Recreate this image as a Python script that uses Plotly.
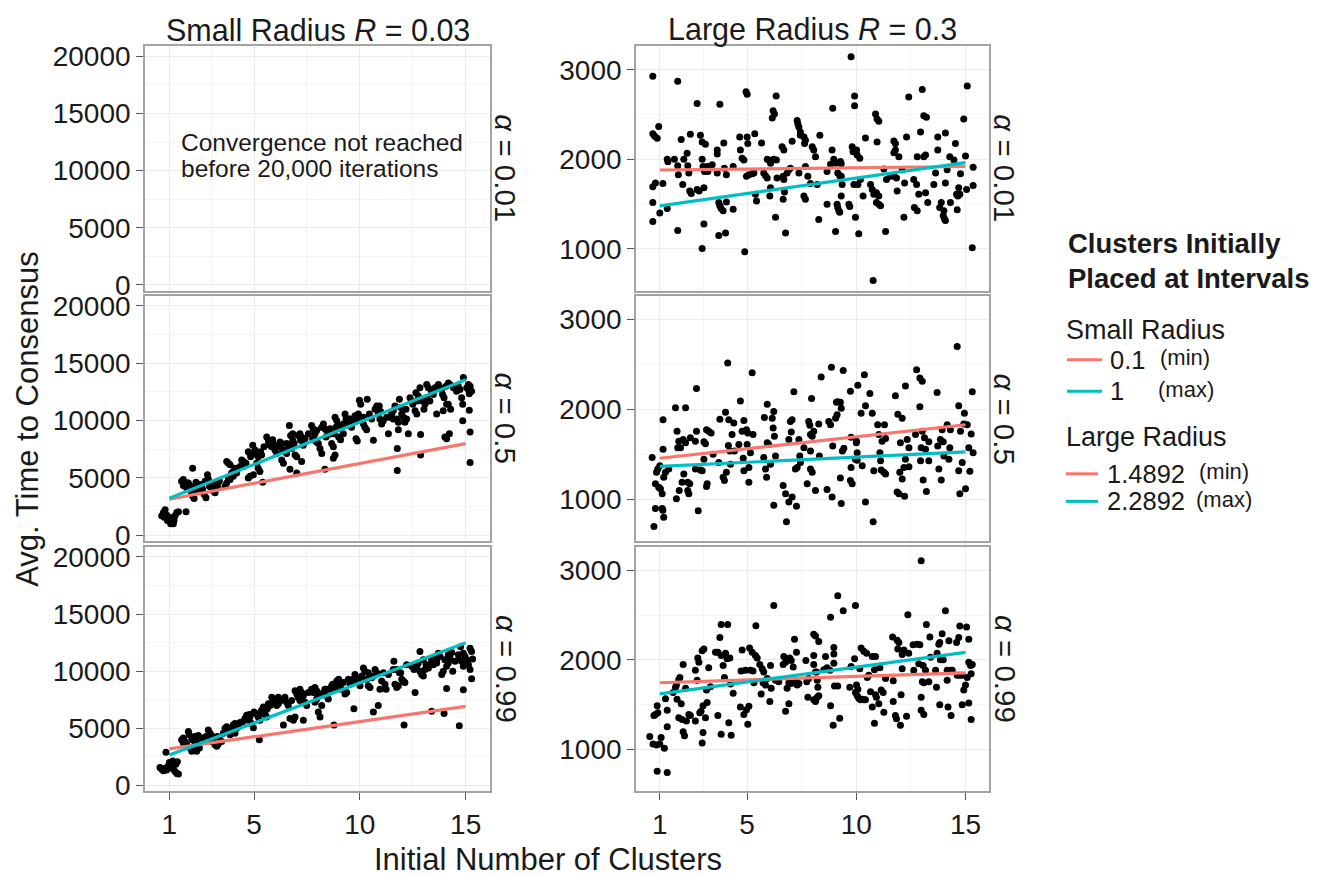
import plotly.graph_objects as go

W, H = 1326, 876
FONT = "Liberation Sans"
RED = "#F8766D"
TEAL = "#00BFC4"

# ---- axis breaks ----
CLUSTER_TICKS = [1, 5, 10, 15]
CLUSTER_MINOR = [3, 7.5, 12.5]
SMALL_Y_TICKS = [0, 5000, 10000, 15000, 20000]
SMALL_Y_MINOR = [2500, 7500, 12500, 17500]
LARGE_Y_TICKS = [1000, 2000, 3000]
LARGE_Y_MINOR = [1500, 2500]

COL_TITLES = ["Small Radius <i>R</i> = 0.03", "Large Radius <i>R</i> = 0.3"]
ROW_LABELS = ["<i>α</i> = 0.01", "<i>α</i> = 0.5", "<i>α</i> = 0.99"]

# ---- reference lines: clusters placed at intervals (value at 1 and at 15 clusters) ----
LINE_X = [1, 15]
SMALL_A05_MIN = [3143, 8000]
SMALL_A05_MAX = [3229, 13571]
SMALL_A099_MIN = [3200, 6914]
SMALL_A099_MAX = [2657, 12486]
LARGE_A001_MIN = [1880, 1919]
LARGE_A001_MAX = [1480, 1963]
LARGE_A05_MIN = [1455, 1828]
LARGE_A05_MAX = [1364, 1525]
LARGE_A099_MIN = [1744, 1854]
LARGE_A099_MAX = [1620, 2084]

SMALL_LEVELS = ["0.1", "1"]
LARGE_LEVELS = ["1.4892", "2.2892"]
LEVEL_TAGS = ["(min)", "(max)"]

# ---- simulation runs: (initial clusters, avg. time to consensus) ----
LARGE_A001 = [
    (0.68, 2927), (0.68, 2286), (0.77, 2256), (0.88, 2234), (0.95, 2366), (0.68, 1692), (0.80, 1736), (0.68, 1516), (0.68, 1304), (1.00, 1399),
    (1.14, 1729), (1.34, 2000), (1.37, 1971), (1.34, 1451), (1.67, 2000), (1.82, 2872), (1.82, 1927), (1.85, 1828), (1.82, 1205), (1.98, 2220),
    (2.05, 1718), (2.10, 2000), (2.25, 2066), (2.28, 1927), (2.33, 1846), (2.37, 1645), (2.44, 1619), (2.40, 2278), (2.71, 2623), (2.71, 1663),
    (2.80, 1645), (2.86, 2267), (2.94, 2000), (2.98, 1919), (3.05, 1864), (2.94, 2194), (3.09, 2168), (3.02, 1681), (3.02, 1278), (2.94, 1004),
    (3.17, 1919), (3.20, 1864), (3.40, 1938), (3.63, 2103), (3.63, 2059), (3.63, 1846), (3.70, 1516), (3.75, 1480), (3.81, 1451), (3.90, 1425),
    (3.75, 2615), (3.70, 1150), (4.01, 1176), (3.93, 2183), (3.96, 1901), (4.05, 1828), (4.05, 1524), (4.36, 1919), (4.36, 1443), (4.66, 2249),
    (4.69, 2103), (4.77, 2011), (4.85, 1993), (4.95, 2755), (5.00, 2725), (4.89, 967), (5.00, 2249), (5.03, 2176), (4.97, 1810), (5.08, 1828),
    (5.23, 1839), (5.31, 1846), (5.35, 2286), (5.38, 1608), (5.43, 1535), (5.66, 2183), (5.76, 1846), (5.84, 1817), (5.92, 1791), (5.92, 2000),
    (5.99, 1993), (6.07, 1956), (6.07, 1681), (6.04, 1590), (6.22, 2000), (6.34, 1993), (6.19, 2542), (6.25, 2505), (6.15, 2462), (6.33, 2707),
    (6.30, 1352), (6.37, 1791), (6.60, 2139), (6.68, 2103), (6.65, 1810), (6.68, 1773), (6.65, 1553), (6.71, 1634), (6.76, 1176), (6.83, 1846),
    (6.91, 1883), (6.98, 1901), (7.06, 2201), (7.29, 2432), (7.32, 2396), (7.37, 2359), (7.44, 2304), (7.37, 1846), (7.44, 2267), (7.60, 2249),
    (7.67, 2212), (7.63, 2176), (7.60, 1590), (7.67, 1553), (7.67, 1919), (7.78, 1810), (7.90, 1729), (7.98, 2139), (8.05, 2103), (8.13, 2029),
    (8.21, 1718), (8.33, 2267), (8.28, 1326), (8.66, 1864), (8.66, 1498), (8.82, 1945), (8.89, 2103), (8.92, 2571), (8.97, 2000), (9.05, 1956),
    (9.05, 1194), (9.12, 1498), (9.15, 1462), (9.20, 1425), (9.24, 1407), (9.15, 1846), (9.24, 1817), (9.31, 1810), (9.27, 1974), (9.31, 1949),
    (9.35, 1718), (9.31, 1590), (9.66, 1498), (9.70, 1473), (9.76, 3146), (9.81, 2139), (9.85, 2084), (9.89, 1718), (9.92, 2597), (9.92, 2707),
    (9.96, 1352), (10.01, 2103), (10.04, 2048), (10.07, 1718), (10.11, 1169), (10.16, 2011), (10.19, 1773), (10.31, 1590), (10.42, 2238), (10.65, 1718),
    (10.73, 1663), (10.80, 1608), (10.92, 1626), (11.03, 1590), (10.88, 2505), (10.95, 2451), (11.03, 2425), (10.95, 2194), (10.92, 1516), (11.03, 1498),
    (11.11, 1480), (10.77, 645), (11.26, 1890), (11.34, 1194), (11.38, 1773), (11.56, 1810), (11.72, 2205), (11.79, 2176), (11.79, 2103), (11.72, 2073),
    (11.72, 1810), (11.84, 1791), (11.87, 1645), (11.95, 2029), (12.10, 1883), (12.18, 1352), (12.21, 1736), (12.30, 2249), (12.40, 2696), (12.63, 1773),
    (12.76, 1718), (12.66, 1462), (12.79, 1425), (12.79, 2029), (12.86, 1608), (12.94, 2304), (13.02, 2780), (13.09, 2487), (13.21, 2469), (13.09, 2029),
    (13.17, 2048), (13.17, 1626), (13.27, 1516), (13.55, 1718), (13.63, 1846), (13.73, 2249), (13.73, 2103), (13.82, 1462), (13.89, 1516), (13.98, 1370),
    (14.04, 1333), (14.08, 1315), (14.01, 1425), (14.08, 2293), (14.08, 1736), (14.16, 1883), (14.28, 2029), (14.31, 1516), (14.47, 1993), (14.54, 2176),
    (14.59, 1608), (14.65, 1590), (14.74, 1608), (14.62, 1436), (14.69, 1681), (14.77, 1839), (14.92, 2451), (15.00, 2037), (15.08, 2817), (15.05, 1663),
    (15.31, 1011), (15.35, 1912), (15.35, 1707),
]

LARGE_A05 = [
    (0.65, 1462), (0.73, 694), (0.80, 896), (0.85, 1298), (0.91, 1334), (0.80, 1170), (0.95, 1133), (1.03, 1115), (1.00, 1371), (1.11, 1060),
    (1.11, 896), (1.14, 877), (1.18, 797), (1.15, 1883), (1.15, 1554), (1.18, 1243), (1.26, 1298), (1.41, 1334), (1.72, 2018), (1.76, 1005),
    (1.79, 1755), (1.82, 1572), (1.87, 1645), (1.89, 1097), (1.95, 1572), (2.02, 1188), (2.07, 1664), (2.10, 1280), (2.18, 2018), (2.18, 1627),
    (2.28, 1097), (2.33, 1060), (2.28, 1188), (2.40, 1682), (2.37, 1170), (2.63, 1645), (2.68, 1755), (2.68, 2230), (2.63, 1334), (2.76, 870),
    (2.86, 1323), (2.94, 1316), (3.02, 1638), (3.09, 1616), (3.02, 1444), (3.14, 1141), (3.17, 1170), (3.14, 1773), (3.24, 1755), (3.35, 1737),
    (3.44, 1499), (3.70, 1408), (3.75, 1890), (3.90, 1243), (3.96, 1206), (4.01, 1967), (4.05, 1298), (4.11, 2516), (4.14, 1598), (4.21, 1536),
    (4.16, 1883), (4.24, 1389), (4.31, 1718), (4.39, 1846), (4.42, 1536), (4.62, 1609), (4.69, 2091), (4.77, 1755), (4.82, 1455), (4.85, 1876),
    (4.85, 1316), (4.97, 1773), (5.03, 1737), (5.00, 1609), (5.08, 1188), (5.08, 1353), (5.15, 1517), (5.23, 2406), (5.27, 1718), (5.76, 1462),
    (5.79, 1909), (5.84, 1334), (5.89, 1243), (5.92, 2055), (5.92, 1627), (5.99, 1609), (6.07, 1389), (6.15, 1901), (6.19, 1792), (6.22, 1974),
    (6.22, 932), (6.25, 1700), (6.30, 1481), (6.65, 1152), (6.76, 1060), (6.91, 969), (6.80, 749), (6.98, 1865), (7.06, 1883), (7.02, 1748),
    (6.91, 1664), (7.06, 1024), (7.26, 921), (7.14, 2194), (7.21, 1334), (7.29, 1353), (7.37, 1664), (7.41, 1481), (7.44, 1408), (7.60, 1572),
    (7.75, 1170), (7.82, 1865), (7.87, 1821), (7.90, 1718), (7.98, 1700), (7.90, 1536), (7.90, 1334), (7.98, 1298), (7.95, 2121), (8.05, 1755),
    (8.13, 1097), (8.28, 1835), (8.31, 1481), (8.39, 2358), (8.66, 1108), (8.74, 1865), (8.82, 1828), (8.86, 2468), (8.89, 1024), (8.92, 1590),
    (9.05, 1901), (9.12, 1938), (9.09, 2077), (9.15, 2084), (9.27, 2077), (9.27, 1236), (9.31, 2011), (9.31, 950), (9.40, 2432), (9.43, 1565),
    (9.36, 1536), (9.73, 2201), (9.76, 1689), (9.76, 1353), (9.73, 1206), (9.81, 1170), (10.00, 1627), (10.01, 1645), (10.04, 1517), (9.96, 1444),
    (10.04, 1433), (10.07, 2267), (10.22, 1956), (10.27, 1371), (10.37, 2384), (10.42, 2040), (10.42, 969), (10.62, 2176), (10.73, 1956), (10.77, 749),
    (10.80, 1316), (10.98, 1828), (11.03, 1718), (11.08, 1517), (11.11, 1426), (11.14, 1323), (11.18, 1645), (11.26, 1298), (11.34, 1280), (11.29, 1828),
    (11.34, 1675), (11.79, 2150), (11.90, 1945), (11.87, 1078), (11.95, 1060), (11.99, 1298), (12.02, 1627), (12.10, 1901), (12.10, 1225), (12.18, 1353),
    (12.21, 1031), (12.25, 2260), (12.25, 1444), (12.33, 1664), (12.41, 1572), (12.41, 1360), (12.76, 2439), (12.71, 1718), (12.91, 2347), (13.02, 2311),
    (12.91, 2029), (12.94, 1426), (12.97, 1572), (13.02, 1755), (13.06, 1214), (13.12, 1682), (13.17, 1554), (13.21, 1086), (13.32, 1426), (13.32, 1638),
    (13.70, 2187), (13.73, 1590), (13.78, 1334), (13.85, 1664), (13.89, 1214), (13.93, 1773), (13.98, 1638), (14.01, 1481), (14.16, 1828), (14.24, 1444),
    (14.28, 1572), (14.31, 1773), (14.62, 2698), (14.69, 2040), (14.69, 1316), (14.74, 1060), (14.77, 1755), (14.85, 1408), (14.92, 1835), (14.95, 1956),
    (15.00, 1115), (15.08, 1828), (15.15, 1572), (15.20, 1309), (15.26, 1726), (15.31, 2194), (15.35, 1517),
]

LARGE_A099 = [
    (0.54, 1145), (0.69, 1060), (0.85, 1049), (0.73, 1378), (0.80, 1389), (0.91, 1408), (0.88, 1488), (0.88, 757), (1.00, 1060), (1.06, 1134),
    (1.21, 1013), (1.34, 742), (1.26, 1565), (1.34, 1437), (1.34, 1254), (1.61, 1634), (1.72, 1693), (1.76, 1718), (1.79, 1561), (1.92, 1803),
    (1.87, 1781), (1.98, 1510), (2.07, 1949), (1.87, 1353), (2.02, 1335), (2.07, 1196), (2.13, 1152), (2.18, 1682), (2.22, 1316), (2.33, 1389),
    (2.40, 1378), (2.63, 1316), (2.63, 1883), (2.74, 2022), (2.79, 1974), (2.71, 1773), (2.83, 1408), (2.89, 1426), (2.94, 2102), (3.02, 2121),
    (2.94, 1071), (2.98, 1188), (2.98, 1488), (3.09, 1353), (3.14, 1664), (3.17, 1525), (3.24, 1912), (3.32, 1700), (3.66, 1378), (3.55, 2084),
    (3.66, 2084), (3.75, 2249), (3.81, 2048), (3.81, 2395), (4.11, 2395), (3.90, 1938), (3.96, 1803), (3.81, 1170), (4.01, 2073), (4.08, 2011),
    (4.21, 2022), (4.16, 1298), (4.27, 1159), (4.24, 1729), (4.36, 1627), (4.69, 1474), (4.72, 1876), (4.77, 2110), (4.85, 1389), (4.92, 1883),
    (4.97, 1444), (5.03, 1280), (5.08, 1481), (5.11, 2132), (5.15, 1883), (5.23, 2084), (5.27, 1876), (5.31, 1744), (5.38, 2048), (5.46, 2022),
    (5.40, 2380), (5.58, 1949), (5.64, 1620), (5.69, 1901), (5.76, 1865), (5.73, 1744), (5.84, 1718), (5.92, 1792), (6.04, 1536), (6.07, 1938),
    (6.10, 1682), (6.22, 2607), (6.30, 1773), (6.45, 1755), (6.65, 1949), (6.68, 2037), (6.76, 1974), (6.76, 1426), (6.83, 1682), (6.91, 1510),
    (6.95, 2022), (7.02, 1993), (6.91, 1744), (7.02, 1737), (7.11, 1920), (7.17, 2230), (7.21, 1773), (7.29, 1718), (7.26, 2084), (7.37, 1737),
    (7.69, 1993), (7.73, 1755), (7.78, 1583), (7.82, 1792), (8.05, 2285), (8.13, 2267), (8.05, 2048), (8.05, 1949), (8.05, 1554), (8.13, 1536),
    (8.18, 1865), (8.21, 1773), (8.24, 1693), (8.28, 1598), (8.21, 1583), (8.28, 2205), (8.13, 1865), (8.51, 1890), (8.59, 2037), (8.66, 1912),
    (8.79, 1883), (8.82, 2475), (8.82, 1488), (8.94, 1269), (8.97, 2139), (8.97, 2066), (8.97, 1963), (9.00, 1708), (9.15, 1708), (9.15, 2717),
    (9.24, 1349), (9.40, 2548), (9.70, 1693), (9.76, 1927), (9.92, 2011), (9.96, 2607), (10.01, 1718), (10.07, 1671), (9.96, 1634), (10.04, 1598),
    (10.11, 1572), (10.19, 1554), (10.27, 1561), (10.34, 1554), (10.42, 1554), (10.16, 1901), (10.22, 2132), (10.34, 2095), (10.47, 2073), (10.50, 1803),
    (10.57, 1828), (10.65, 1645), (10.73, 1474), (10.73, 2037), (10.88, 2037), (10.83, 1890), (10.88, 1609), (10.92, 1583), (10.83, 1291), (11.03, 1510),
    (11.08, 1912), (11.14, 1664), (11.23, 1634), (11.26, 1415), (11.34, 1792), (11.66, 2256), (11.69, 1766), (11.69, 1536), (11.79, 1378), (11.84, 1342),
    (11.87, 2219), (11.95, 2194), (11.90, 2121), (12.02, 1269), (12.05, 1609), (12.10, 1901), (12.10, 2059), (12.18, 2110), (12.30, 1371), (12.36, 2505),
    (12.40, 2073), (12.63, 1883), (12.60, 2168), (12.79, 2175), (12.91, 2168), (12.86, 1956), (12.97, 3108), (12.97, 1583), (12.97, 1437), (13.09, 1389),
    (13.02, 1755), (13.09, 1744), (13.06, 1938), (13.17, 1883), (13.21, 2395), (13.32, 1755), (13.37, 2256), (13.40, 2029), (13.63, 1883), (13.67, 1693),
    (13.70, 2073), (13.78, 2175), (13.82, 2194), (13.82, 1499), (13.85, 2000), (13.93, 2292), (13.98, 2000), (14.08, 2548), (14.16, 1883), (14.31, 1883),
    (14.39, 1883), (14.16, 1773), (14.20, 1474), (14.24, 2212), (14.34, 1378), (14.59, 2194), (14.69, 2249), (14.62, 1828), (14.74, 1828), (14.85, 1828),
    (14.74, 2377), (14.85, 1499), (14.92, 1664), (15.00, 1718), (15.05, 2366), (15.08, 1803), (15.15, 2230), (15.15, 1517), (15.15, 1974), (15.23, 1938),
    (15.26, 1846), (15.26, 1335), (15.31, 1949),
]

SMALL_A05 = [
    (0.64, 1714), (0.72, 2000), (0.80, 2229), (0.87, 1771), (0.95, 1429), (1.03, 1286), (1.11, 1143), (1.19, 1000), (1.00, 1571), (1.16, 1429),
    (1.27, 1714), (1.35, 2000), (0.75, 1571), (0.91, 1286), (1.06, 1000), (1.22, 1286), (1.43, 2057), (1.79, 2057),
    (1.58, 4714), (1.66, 4857), (1.74, 4286), (1.82, 4143), (1.90, 4571), (1.94, 4343), (2.00, 4000), (2.06, 3714), (2.10, 3429), (2.17, 3200),
    (2.10, 5857), (2.21, 4286), (2.29, 4000), (2.45, 4429), (2.57, 4000), (2.64, 3571), (2.73, 3286), (2.69, 4714), (2.80, 5286), (2.84, 4914),
    (2.89, 4286), (3.00, 4143), (3.08, 3857), (3.16, 3714), (3.20, 4571), (3.27, 4286), (3.63, 4286), (3.71, 4571), (3.79, 5000), (3.71, 6429),
    (3.79, 6286), (3.87, 6143), (3.94, 5429), (4.02, 5571), (4.10, 5857), (3.87, 4857), (4.02, 5143), (4.26, 5857), (4.34, 6000), (4.42, 6571),
    (4.50, 6429), (4.73, 7286), (4.81, 7143), (4.89, 7000), (4.73, 5000), (4.81, 5143), (4.97, 5286), (4.94, 7857), (5.05, 7429), (5.13, 6286),
    (5.20, 5857), (5.28, 5571), (5.20, 6857), (5.31, 7286), (5.41, 4629), (5.60, 8571), (5.68, 8229), (5.76, 7857), (5.84, 7714), (5.91, 8000),
    (5.99, 7429), (6.07, 7143), (6.15, 7714), (6.23, 8143), (6.31, 8000), (6.31, 6571), (6.39, 6286), (6.47, 7429), (6.54, 7143), (6.67, 9571),
    (6.73, 8714), (6.83, 8286), (6.70, 7857), (6.78, 7571), (6.70, 5771), (6.94, 7000), (7.02, 6857), (7.02, 5429), (7.09, 8714), (7.17, 8857),
    (7.25, 8571), (7.25, 6429), (7.33, 7857), (7.72, 9571), (7.80, 9286), (7.88, 8857), (7.77, 8429), (7.88, 8286), (7.96, 8143), (8.04, 8000),
    (8.12, 7571), (8.20, 7143), (8.28, 9714), (8.35, 9286), (8.35, 5771), (8.40, 8571), (8.51, 8800), (8.59, 9286), (8.67, 8857), (8.67, 8000),
    (8.75, 7714), (8.75, 6714), (8.83, 7000), (8.83, 10286), (8.91, 10000), (9.00, 9571), (9.06, 9286), (9.00, 8571), (9.09, 8343), (9.22, 8857),
    (9.30, 10571), (9.38, 9857), (9.46, 10143), (9.54, 9714), (9.61, 9429), (9.77, 10429), (9.85, 10143), (9.93, 10571), (9.82, 8429), (9.88, 8229),
    (9.98, 11771), (10.04, 11429), (10.09, 10000), (10.17, 10286), (10.24, 9429), (10.32, 9200), (10.35, 11857), (10.64, 8286), (10.72, 11000), (10.80, 11286),
    (10.87, 10571), (10.95, 10143), (11.03, 9714), (11.11, 10000), (11.35, 8857), (11.43, 10286), (11.50, 10571), (11.58, 10857), (11.66, 11286), (11.74, 10143),
    (11.82, 9857), (11.82, 9200), (11.77, 7571), (11.77, 5657), (11.87, 11857), (11.98, 10571), (12.06, 10286), (12.13, 9857), (12.21, 10143), (12.29, 8857),
    (12.37, 12000), (12.45, 11714), (12.61, 10857), (12.69, 10571), (12.65, 12429), (12.76, 12143), (12.84, 12857), (12.87, 8800), (12.87, 7000), (12.97, 11714),
    (13.08, 11429), (13.03, 11000), (13.16, 13143), (13.24, 12857), (13.39, 12571), (13.47, 12286), (13.63, 10571), (13.71, 13143), (13.79, 12857), (13.87, 12714),
    (13.91, 12286), (13.98, 12000), (13.94, 10857), (14.02, 8571), (14.10, 8429), (14.23, 8857), (14.10, 11429), (14.18, 11429), (14.18, 13286), (14.26, 13143),
    (14.29, 11000), (14.65, 13000), (14.73, 12714), (14.81, 12000), (14.86, 11429), (14.86, 10000), (14.89, 13771), (15.05, 12857), (15.13, 12714), (15.17, 12343),
    (15.28, 12571), (15.13, 13143), (15.21, 13000), (15.17, 10914), (15.21, 9000), (15.21, 6343),
    (1.66, 4343), (1.85, 4571), (2.26, 4629), (2.37, 4286), (2.53, 4143), (2.92, 4571), (3.08, 4343), (3.36, 4714), (3.87, 5143), (4.18, 5429),
    (4.50, 6000), (4.62, 6286), (4.84, 6857), (5.09, 7143), (5.36, 7000), (5.47, 7714), (5.72, 8000), (5.88, 8343), (6.20, 7771), (6.35, 7429),
    (6.54, 8000), (6.83, 8857), (6.89, 8000), (7.20, 8286), (7.41, 8429), (7.57, 8857), (7.96, 9143), (8.20, 9429), (8.43, 9143), (8.78, 8857),
    (8.87, 9429), (9.22, 9714), (9.35, 10143), (9.54, 10143), (9.66, 10000), (10.17, 9714), (10.45, 10571), (10.56, 10143), (10.92, 11286), (10.98, 10800),
    (11.27, 10286), (11.58, 10143), (11.93, 11143), (12.18, 11000), (12.50, 11429), (12.72, 11714), (13.16, 12000), (13.31, 11714), (13.55, 12857), (14.07, 13000),
    (14.42, 12857), (14.57, 12571),
]

SMALL_A099 = [
    (0.56, 1571), (0.64, 1429), (0.72, 1286), (0.80, 1514), (0.87, 1343), (0.95, 1714), (1.03, 1857), (1.11, 1571), (1.19, 1429), (1.27, 1229),
    (1.35, 1057), (1.43, 1000), (0.84, 2914), (1.00, 2000), (1.16, 2143), (1.31, 1857), (1.38, 2086),
    (1.58, 4000), (1.66, 4143), (1.74, 3857), (1.82, 3571), (1.90, 4714), (1.94, 4429), (1.98, 3286), (2.06, 3000), (2.13, 3143),
    (2.21, 3571), (2.29, 3857), (2.37, 4371), (2.29, 3000), (2.42, 3286), (2.53, 4143), (2.64, 3857), (2.84, 4857), (2.92, 4571), (3.00, 4371),
    (2.88, 4000), (3.05, 3800), (3.16, 3571), (3.24, 3429), (3.31, 3629), (3.27, 4286), (3.39, 4000), (3.47, 3857), (3.63, 5000), (3.71, 5143),
    (3.79, 4714), (3.87, 4429), (3.94, 4857), (4.02, 5286), (4.10, 5429), (4.18, 5000), (4.10, 4571), (4.26, 5143), (4.34, 5514), (4.57, 5857),
    (4.65, 6143), (4.73, 5714), (4.81, 6000), (4.89, 5429), (4.97, 5057), (5.09, 6286), (5.16, 6143), (5.20, 6000), (5.28, 5714), (5.25, 4000),
    (5.36, 6571), (5.44, 6857), (5.52, 6286), (5.60, 6000), (5.68, 7143), (5.76, 7000), (5.84, 7714), (5.91, 7571), (5.99, 7143), (6.07, 7000),
    (6.15, 7143), (6.15, 7714), (6.23, 7429), (6.39, 5286), (6.54, 7286), (6.62, 7000), (6.70, 5857), (6.86, 5714), (6.94, 6000), (6.94, 8286),
    (7.02, 8000), (7.09, 7714), (7.17, 7429), (7.17, 8429), (7.25, 8143), (7.33, 5714), (7.41, 7286), (7.49, 7000), (7.72, 8429), (7.80, 8143),
    (7.88, 8571), (7.88, 7286), (7.96, 7571), (8.04, 7857), (8.04, 6429), (8.12, 6000), (8.20, 7000), (8.28, 8143), (8.35, 8429), (8.43, 7857),
    (8.51, 7571), (8.59, 8429), (8.67, 8714), (8.72, 8857), (8.83, 8571), (8.78, 5286), (8.91, 9143), (9.00, 9286), (9.06, 8857), (9.14, 8429),
    (9.30, 8000), (9.38, 8143), (9.61, 9000), (9.69, 9286), (9.72, 6714), (9.77, 9714), (9.85, 9429), (9.93, 9000), (10.01, 8714), (10.09, 9571),
    (10.17, 10286), (10.24, 10000), (10.32, 9286), (10.40, 8714), (10.48, 8571), (10.56, 9429), (10.64, 6429), (10.72, 10143), (10.80, 9857), (10.87, 7000),
    (10.95, 8429), (11.03, 9143), (11.19, 8857), (11.24, 8429), (11.61, 10857), (11.66, 8857), (11.74, 8571), (11.82, 8714), (11.74, 10143), (11.87, 9857),
    (11.98, 9286), (12.06, 9143), (12.09, 5286), (12.13, 9000), (12.21, 10571), (12.61, 8143), (12.69, 10429), (12.76, 10714), (12.84, 10000), (12.92, 9714),
    (13.00, 9571), (12.84, 11714), (13.00, 11000), (13.13, 10571), (13.24, 10286), (13.31, 10571), (13.39, 6486), (13.39, 11000), (13.47, 10571), (13.55, 11143),
    (13.63, 10857), (13.71, 11571), (13.79, 11286), (13.87, 9714), (13.94, 10000), (13.98, 6286), (14.02, 11000), (14.10, 10429), (14.10, 8486), (14.18, 11429),
    (14.26, 11143), (14.34, 11629), (14.39, 10000), (14.65, 11429), (14.73, 11000), (14.70, 5229), (14.76, 12143), (14.81, 10857), (14.89, 10429), (14.89, 8371),
    (14.97, 11286), (15.05, 11000), (15.13, 10571), (15.21, 10143), (15.21, 12000), (15.28, 11714), (15.28, 9343), (15.33, 11057),
    (1.66, 3714), (2.06, 4000), (2.21, 4286), (2.73, 4286), (3.08, 4143), (3.55, 4571), (3.87, 5000), (4.21, 5343), (4.46, 5571), (4.78, 6200),
    (5.00, 6429), (5.41, 6286), (5.63, 6714), (5.88, 7286), (6.26, 7429), (6.46, 7714), (6.78, 7429), (7.33, 7857), (7.57, 8143), (7.96, 8286),
    (8.43, 8429), (8.91, 8857), (9.22, 9000), (9.46, 9286), (9.54, 8857), (10.09, 9286), (10.40, 9857), (10.64, 9571), (11.11, 9857), (11.35, 9714),
    (11.58, 10143), (11.93, 9857), (12.45, 10429), (12.56, 10143), (13.08, 10143), (13.63, 10714), (14.18, 10714), (14.50, 10857), (14.89, 11571), (15.08, 10714),
]

# ---- panel geometry (paper fractions) ----
COL_DOMAIN = [[145 / W, 490 / W], [636 / W, 989.3 / W]]
ROW_DOMAIN = [
    [1 - 290.7 / H, 1 - 41.7 / H],
    [1 - 545.5 / H, 1 - 295.7 / H],
    [1 - 800.0 / H, 1 - 551.0 / H],
]
COL_XRANGE = [[-0.15, 16.15], [-0.09, 16.09]]
COL_YRANGE = [[-510, 20900], [532, 3265]]

GRID = "#EBEBEB"
GRID_MINOR = "#F4F4F4"
BORDER = "#A3A3A3"
TEXT = "#1A1A1A"

fig = go.Figure()

panels = {
    (0, 0): (None, None, None),
    (0, 1): (LARGE_A001, LARGE_A001_MIN, LARGE_A001_MAX),
    (1, 0): (SMALL_A05, SMALL_A05_MIN, SMALL_A05_MAX),
    (1, 1): (LARGE_A05, LARGE_A05_MIN, LARGE_A05_MAX),
    (2, 0): (SMALL_A099, SMALL_A099_MIN, SMALL_A099_MAX),
    (2, 1): (LARGE_A099, LARGE_A099_MIN, LARGE_A099_MAX),
}

layout_axes = {}
for (row, col), (pts, line_min, line_max) in panels.items():
    n = row * 2 + col + 1
    sfx = "" if n == 1 else str(n)
    xref, yref = "x" + sfx, "y" + sfx

    if pts is None:
        fig.add_trace(go.Scatter(x=[], y=[], xaxis=xref, yaxis=yref, showlegend=False))
    else:
        xs = [p[0] for p in pts]
        ys = [p[1] for p in pts]
        fig.add_trace(go.Scatter(
            x=xs, y=ys, mode="markers", xaxis=xref, yaxis=yref,
            marker=dict(color="black", size=7, line=dict(width=0)),
            showlegend=False, hoverinfo="x+y",
        ))
        fig.add_trace(go.Scatter(
            x=LINE_X, y=line_min, mode="lines", xaxis=xref, yaxis=yref,
            line=dict(color=RED, width=3.2), showlegend=False,
        ))
        fig.add_trace(go.Scatter(
            x=LINE_X, y=line_max, mode="lines", xaxis=xref, yaxis=yref,
            line=dict(color=TEAL, width=3.2), showlegend=False,
        ))

    bottom = row == 2
    layout_axes["xaxis" + sfx] = dict(
        domain=COL_DOMAIN[col], anchor=yref, range=COL_XRANGE[col],
        tickmode="array", tickvals=CLUSTER_TICKS,
        showticklabels=bottom, ticks="outside" if bottom else "",
        ticklen=7, tickwidth=1.3, tickcolor="#555555",
        tickfont=dict(family=FONT, size=28, color=TEXT),
        showgrid=True, gridcolor=GRID, gridwidth=1.3, zeroline=False,
        minor=dict(tickmode="array", tickvals=CLUSTER_MINOR, showgrid=True,
                   gridcolor=GRID_MINOR, gridwidth=0.8, ticks=""),
        showline=True, mirror=True, linecolor=BORDER, linewidth=1.6,
    )
    yt = SMALL_Y_TICKS if col == 0 else LARGE_Y_TICKS
    ym = SMALL_Y_MINOR if col == 0 else LARGE_Y_MINOR
    layout_axes["yaxis" + sfx] = dict(
        domain=ROW_DOMAIN[row], anchor=xref, range=COL_YRANGE[col],
        tickmode="array", tickvals=yt, ticktext=[str(v) for v in yt],
        ticks="outside", ticklen=7, tickwidth=1.3, tickcolor="#555555",
        tickfont=dict(family=FONT, size=28, color=TEXT),
        showgrid=True, gridcolor=GRID, gridwidth=1.3, zeroline=False,
        minor=dict(tickmode="array", tickvals=ym, showgrid=True,
                   gridcolor=GRID_MINOR, gridwidth=0.8, ticks=""),
        showline=True, mirror=True, linecolor=BORDER, linewidth=1.6,
    )

annotations = []

def txt(text, x, y, size, xanchor="center", yanchor="middle", angle=0, bold=False, xr="paper", yr="paper"):
    annotations.append(dict(
        text="<b>%s</b>" % text if bold else text,
        x=x, y=y, xref=xr, yref=yr,
        xanchor=xanchor, yanchor=yanchor, textangle=angle, showarrow=False,
        font=dict(family=FONT, size=size, color=TEXT),
    ))

# column headers
for col, title in enumerate(COL_TITLES):
    cx = (COL_DOMAIN[col][0] + COL_DOMAIN[col][1]) / 2
    txt(title, cx, 1 - 25 / H, 30.5)

# row strips
STRIP_X = [506 / W, 1005 / W]
for row, lab in enumerate(ROW_LABELS):
    cy = (ROW_DOMAIN[row][0] + ROW_DOMAIN[row][1]) / 2
    for col in range(2):
        txt(lab, STRIP_X[col], cy, 29.5, angle=90)

# axis titles
txt("Avg. Time to Consensus", 28 / W, 1 - 422 / H, 31, angle=-90)
txt("Initial Number of Clusters", 547.5 / W, 1 - 869 / H, 31)

# empty-panel note
txt("Convergence not reached", 1.47, 12430, 24.5, xanchor="left", xr="x", yr="y")
txt("before 20,000 iterations", 1.47, 10140, 24.5, xanchor="left", xr="x", yr="y")

# legend (drawn manually to keep the two radius groups)
txt("Clusters Initially", 1066 / W, 1 - 243 / H, 27.5, xanchor="left", bold=True)
txt("Placed at Intervals", 1066 / W, 1 - 278 / H, 27.5, xanchor="left", bold=True)

shapes = []
def legend_group(title, ty, levels, rows_y, sw_x0, sw_x1, lab_x, tag_x):
    txt(title, 1064 / W, 1 - ty / H, 27, xanchor="left")
    for i, (lev, tag, ry) in enumerate(zip(levels, LEVEL_TAGS, rows_y)):
        shapes.append(dict(type="line", xref="paper", yref="paper",
                           x0=sw_x0 / W, x1=sw_x1 / W, y0=1 - ry / H, y1=1 - ry / H,
                           line=dict(color=[RED, TEAL][i], width=3)))
        txt(lev, lab_x / W, 1 - ry / H, 25.5, xanchor="left")
        txt(tag, tag_x[i] / W, 1 - (ry - 2) / H, 22, xanchor="left")

legend_group("Small Radius", 331, SMALL_LEVELS, [361, 393], 1067, 1102, 1108, [1158, 1156])
legend_group("Large Radius", 440, LARGE_LEVELS, [477, 505], 1066, 1098, 1105, [1197, 1194])

fig.update_layout(
    width=W, height=H,
    margin=dict(l=0, r=0, t=0, b=0),
    paper_bgcolor="white", plot_bgcolor="white",
    showlegend=False,
    annotations=annotations, shapes=shapes,
    **layout_axes,
)

fig.write_html("out.html")
